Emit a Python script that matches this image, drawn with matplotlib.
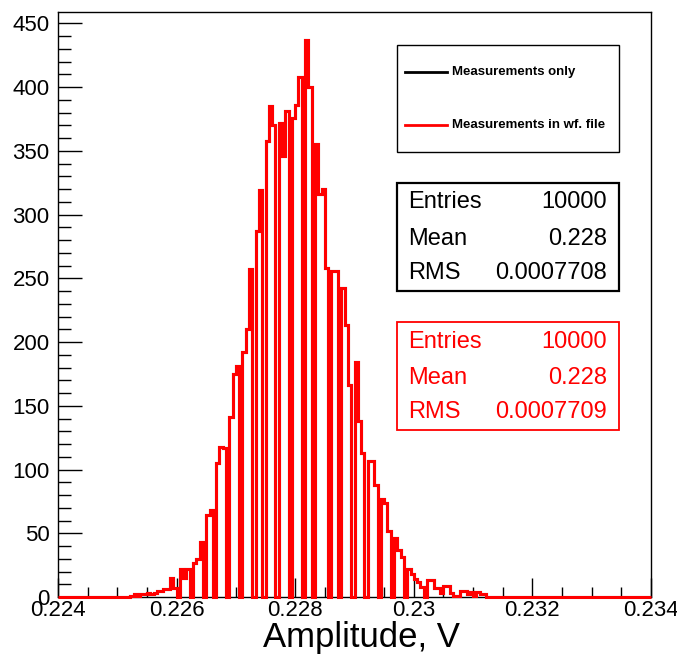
import matplotlib
matplotlib.use("Agg")
import matplotlib.pyplot as plt
import numpy as np
from matplotlib.patches import Rectangle
from matplotlib.lines import Line2D
from matplotlib.ticker import MultipleLocator, FuncFormatter

plt.rcParams['font.family'] = ['Liberation Sans', 'DejaVu Sans']

# Histogram definition
x_min, x_max = 0.224, 0.234
n_bins = 180

# Bin contents (bins 22..130 hold the measured amplitudes, the rest are empty)
counts_core = [
    1, 2, 1, 2, 2, 3, 2, 3, 5, 5, 6, 6, 15, 7, 0,
    22, 15, 22, 0, 27, 30, 43, 0, 64, 68, 0,
    105, 118, 117, 0, 141, 175, 181, 0, 192, 210, 257, 0,
    287, 319, 0, 358, 385, 370, 0, 372, 346, 381, 0,
    376, 386, 408, 0, 437, 400, 0, 355, 316, 320, 258, 0,
    256, 256, 0, 242, 213, 166, 0, 184, 138, 113, 0,
    107, 107, 88, 0, 77, 74, 52, 0, 46, 37, 31, 0,
    22, 18, 14, 12, 8, 0, 13, 13, 7, 7, 3, 9, 9, 3, 1, 1,
    5, 5, 2, 4, 1, 4, 2, 2, 0,
]
first_bin = 22
counts = [0] * first_bin + counts_core
counts = counts + [0] * (n_bins - len(counts))

# Statistics boxes
stats_black = [("Entries", "10000"), ("Mean", "0.228"), ("RMS", "0.0007708")]
stats_red = [("Entries", "10000"), ("Mean", "0.228"), ("RMS", "0.0007709")]
legend_labels = ["Measurements only", "Measurements in wf. file"]
x_title = "Amplitude, V"

W, H = 677, 657
fig = plt.figure(figsize=(W / 100, H / 100), dpi=100)


def fx(x):
    return x / W


def fy(y):
    return 1 - y / H


ax = fig.add_axes([fx(58), fy(597), (651 - 58) / W, (597 - 12) / H])
edges = np.linspace(x_min, x_max, n_bins + 1)
ax.stairs(counts, edges, color='black', lw=2.2, zorder=2)
ax.stairs(counts, edges, color='#ff0000', lw=2.2, clip_on=False, zorder=3)

ax.set_xlim(x_min, x_max)
ax.set_ylim(0, 1.05 * max(counts))

ax.xaxis.set_major_locator(MultipleLocator(0.002))
ax.xaxis.set_minor_locator(MultipleLocator(0.0005))
ax.yaxis.set_major_locator(MultipleLocator(50))
ax.yaxis.set_minor_locator(MultipleLocator(10))
ax.xaxis.set_major_formatter(FuncFormatter(lambda v, p: f"{round(v, 4):g}"))
ax.yaxis.set_major_formatter(FuncFormatter(lambda v, p: f"{int(round(v))}"))

ax.tick_params(axis='x', which='major', direction='in', length=14, width=1,
               labelsize=16, pad=2, top=False)
ax.tick_params(axis='x', which='minor', direction='in', length=7, width=1, top=False)
ax.tick_params(axis='y', which='major', direction='in', length=17, width=1,
               labelsize=16, pad=6, right=False)
ax.tick_params(axis='y', which='minor', direction='in', length=9, width=1, right=False)
for s in ax.spines.values():
    s.set_linewidth(1.0)
    s.set_color('black')

fig.text(fx(361), fy(637), x_title, ha='center', va='center', fontsize=25)

# Legend box
fig.patches.append(Rectangle((fx(397), fy(152)), (619 - 397) / W, (152 - 45) / H,
                             transform=fig.transFigure, facecolor='white',
                             edgecolor='black', lw=1.0, zorder=5))
for (lab, col, yy) in zip(legend_labels, ['black', '#ff0000'], [72, 125]):
    fig.lines.append(Line2D([fx(405), fx(447)], [fy(yy), fy(yy)],
                            transform=fig.transFigure, color=col, lw=2.0, zorder=6))
    fig.text(fx(452), fy(yy), lab, ha='left', va='center', fontsize=9.5,
             fontweight='bold', zorder=6)

# Statistics boxes
def stats_box(rows, color, top, bottom, ys, lw):
    fig.patches.append(Rectangle((fx(397), fy(bottom)), (619 - 397) / W, (bottom - top) / H,
                                 transform=fig.transFigure, facecolor='white',
                                 edgecolor=color, lw=lw, zorder=5))
    for (name, val), yy in zip(rows, ys):
        fig.text(fx(408), fy(yy), name, ha='left', va='center', fontsize=17,
                 color=color, zorder=6)
        fig.text(fx(607), fy(yy), val, ha='right', va='center', fontsize=17,
                 color=color, zorder=6)


stats_box(stats_black, 'black', 183, 291, [202, 239, 273], 1.6)
stats_box(stats_red, '#ff0000', 322, 430, [342, 378, 412], 1.3)

fig.savefig("out.png", dpi=100, facecolor='white')
